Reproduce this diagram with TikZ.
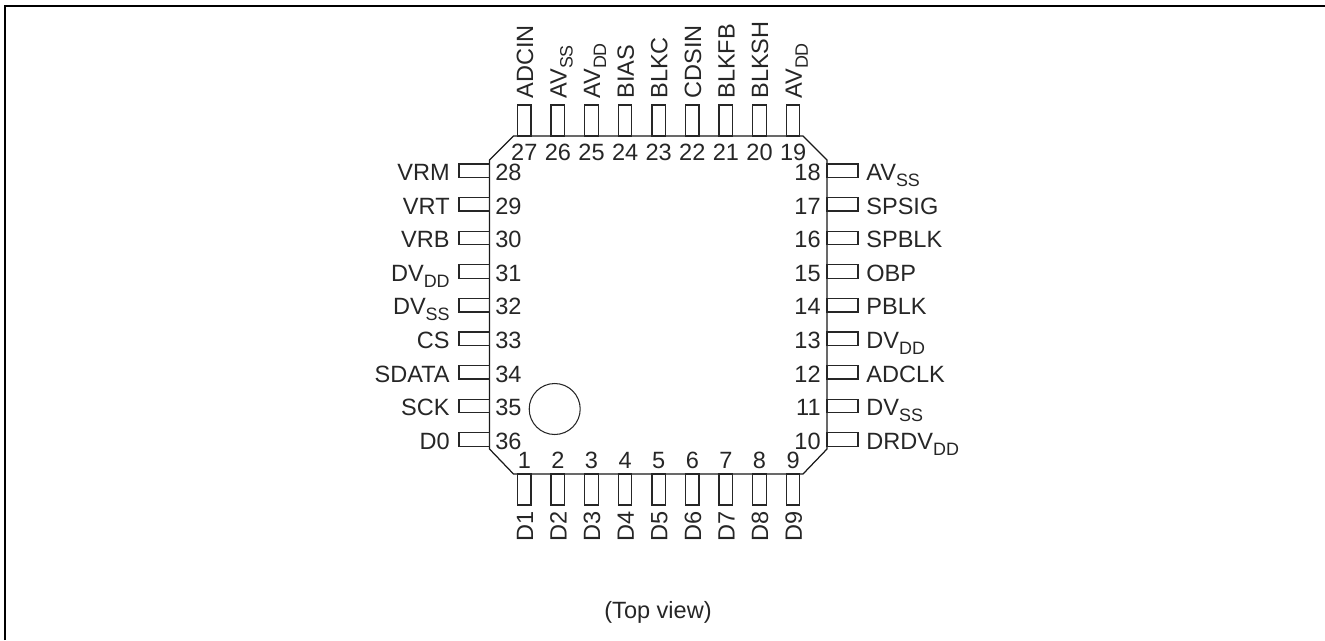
\documentclass[tikz,border=0pt]{standalone}
\usepackage{fontspec}
\setmainfont{Liberation Sans}
\usepackage{tikz}
\newcommand{\lowtxt}[1]{\raisebox{-3.4pt}{\fontsize{10.2}{12}\selectfont #1}}
\tikzset{
  pinbox/.style={draw=black!85, line width=0.7pt},
  bodyline/.style={draw=black!90, line width=0.7pt},
  txt/.style={inner sep=0pt, text=black!85, font=\fontsize{13.4}{16}\selectfont},
  uplabel/.style={txt, rotate=90, anchor=base west}
}

\begin{document}
\begin{tikzpicture}[x=0.02cm, y=-0.02cm]
    \useasboundingbox (0,0) rectangle (1325,640);
    \draw[line width=1.15pt] (5,640) -- (5,6) -- (1325,6);
    % package outline
    \draw[bodyline] (513.5,136) -- (803,136) -- (827,160) -- (827,449) -- (803,474) -- (513.5,474) -- (489.5,449) -- (489.5,160) -- cycle;
    \node[draw=black!85, line width=0.6pt, circle, minimum size=51*0.02cm, inner sep=0pt] (dot) at (554.7,409) {};
    % top pins
    \draw[pinbox] (517.5,136) rectangle (531,105);
    \draw[pinbox] (551.1,136) rectangle (564.6,105);
    \draw[pinbox] (584.7,136) rectangle (598.2,105);
    \draw[pinbox] (618.3,136) rectangle (631.8,105);
    \draw[pinbox] (651.9,136) rectangle (665.4,105);
    \draw[pinbox] (685.5,136) rectangle (699,105);
    \draw[pinbox] (719.1,136) rectangle (732.6,105);
    \draw[pinbox] (752.7,136) rectangle (766.2,105);
    \draw[pinbox] (786.3,136) rectangle (799.8,105);
    % bottom pins
    \draw[pinbox] (517.5,474) rectangle (531,505);
    \draw[pinbox] (551.1,474) rectangle (564.6,505);
    \draw[pinbox] (584.7,474) rectangle (598.2,505);
    \draw[pinbox] (618.3,474) rectangle (631.8,505);
    \draw[pinbox] (651.9,474) rectangle (665.4,505);
    \draw[pinbox] (685.5,474) rectangle (699,505);
    \draw[pinbox] (719.1,474) rectangle (732.6,505);
    \draw[pinbox] (752.7,474) rectangle (766.2,505);
    \draw[pinbox] (786.3,474) rectangle (799.8,505);
    % left pins
    \draw[pinbox] (489.5,164) rectangle (459,177.5);
    \draw[pinbox] (489.5,197.6) rectangle (459,211.1);
    \draw[pinbox] (489.5,231.2) rectangle (459,244.7);
    \draw[pinbox] (489.5,264.8) rectangle (459,278.3);
    \draw[pinbox] (489.5,298.4) rectangle (459,311.9);
    \draw[pinbox] (489.5,332) rectangle (459,345.5);
    \draw[pinbox] (489.5,365.6) rectangle (459,379.1);
    \draw[pinbox] (489.5,399.2) rectangle (459,412.7);
    \draw[pinbox] (489.5,432.8) rectangle (459,446.3);
    % right pins
    \draw[pinbox] (827,164) rectangle (858,177.5);
    \draw[pinbox] (827,197.6) rectangle (858,211.1);
    \draw[pinbox] (827,231.2) rectangle (858,244.7);
    \draw[pinbox] (827,264.8) rectangle (858,278.3);
    \draw[pinbox] (827,298.4) rectangle (858,311.9);
    \draw[pinbox] (827,332) rectangle (858,345.5);
    \draw[pinbox] (827,365.6) rectangle (858,379.1);
    \draw[pinbox] (827,399.2) rectangle (858,412.7);
    \draw[pinbox] (827,432.8) rectangle (858,446.3);
    % numbers
    \node[txt, anchor=base] (n27) at (524.3,160) {27};
    \node[txt, anchor=base] (n26) at (557.9,160) {26};
    \node[txt, anchor=base] (n25) at (591.5,160) {25};
    \node[txt, anchor=base] (n24) at (625.1,160) {24};
    \node[txt, anchor=base] (n23) at (658.7,160) {23};
    \node[txt, anchor=base] (n22) at (692.3,160) {22};
    \node[txt, anchor=base] (n21) at (725.9,160) {21};
    \node[txt, anchor=base] (n20) at (759.5,160) {20};
    \node[txt, anchor=base] (n19) at (793.1,160) {19};
    \node[txt, anchor=base] (n1) at (524.3,468.3) {1};
    \node[txt, anchor=base] (n2) at (557.9,468.3) {2};
    \node[txt, anchor=base] (n3) at (591.5,468.3) {3};
    \node[txt, anchor=base] (n4) at (625.1,468.3) {4};
    \node[txt, anchor=base] (n5) at (658.7,468.3) {5};
    \node[txt, anchor=base] (n6) at (692.3,468.3) {6};
    \node[txt, anchor=base] (n7) at (725.9,468.3) {7};
    \node[txt, anchor=base] (n8) at (759.5,468.3) {8};
    \node[txt, anchor=base] (n9) at (793.1,468.3) {9};
    \node[txt, anchor=base west] (n28) at (495,180.5) {28};
    \node[txt, anchor=base west] (n29) at (495,214.1) {29};
    \node[txt, anchor=base west] (n30) at (495,247.7) {30};
    \node[txt, anchor=base west] (n31) at (495,281.3) {31};
    \node[txt, anchor=base west] (n32) at (495,314.9) {32};
    \node[txt, anchor=base west] (n33) at (495,348.5) {33};
    \node[txt, anchor=base west] (n34) at (495,382.1) {34};
    \node[txt, anchor=base west] (n35) at (495,415.7) {35};
    \node[txt, anchor=base west] (n36) at (495,449.3) {36};
    \node[txt, anchor=base east] (n18) at (821,180.5) {18};
    \node[txt, anchor=base east] (n17) at (821,214.1) {17};
    \node[txt, anchor=base east] (n16) at (821,247.7) {16};
    \node[txt, anchor=base east] (n15) at (821,281.3) {15};
    \node[txt, anchor=base east] (n14) at (821,314.9) {14};
    \node[txt, anchor=base east] (n13) at (821,348.5) {13};
    \node[txt, anchor=base east] (n12) at (821,382.1) {12};
    \node[txt, anchor=base east] (n11) at (821,415.7) {11};
    \node[txt, anchor=base east] (n10) at (821,449.3) {10};
    % pin names
    \node[uplabel] (adcin) at (533,99) {ADCIN};
    \node[uplabel] (avssa) at (566.6,99) {AV\lowtxt{SS}};
    \node[uplabel] (avdda) at (600.2,99) {AV\lowtxt{DD}};
    \node[uplabel] (bias) at (633.8,99) {BIAS};
    \node[uplabel] (blkc) at (667.4,99) {BLKC};
    \node[uplabel] (cdsin) at (701,99) {CDSIN};
    \node[uplabel] (blkfb) at (734.6,99) {BLKFB};
    \node[uplabel] (blksh) at (768.2,99) {BLKSH};
    \node[uplabel] (avddb) at (801.8,99) {AV\lowtxt{DD}};
    \node[uplabel] (d1) at (533,541.7) {D1};
    \node[uplabel] (d2) at (566.6,541.7) {D2};
    \node[uplabel] (d3) at (600.2,541.7) {D3};
    \node[uplabel] (d4) at (633.8,541.7) {D4};
    \node[uplabel] (d5) at (667.4,541.7) {D5};
    \node[uplabel] (d6) at (701,541.7) {D6};
    \node[uplabel] (d7) at (734.6,541.7) {D7};
    \node[uplabel] (d8) at (768.2,541.7) {D8};
    \node[uplabel] (d9) at (801.8,541.7) {D9};
    \node[txt, anchor=base east] (vrm) at (450,180.5) {VRM};
    \node[txt, anchor=base east] (vrt) at (450,214.1) {VRT};
    \node[txt, anchor=base east] (vrb) at (450,247.7) {VRB};
    \node[txt, anchor=base east] (dvdda) at (450,281.3) {DV\lowtxt{DD}};
    \node[txt, anchor=base east] (dvssa) at (450,314.9) {DV\lowtxt{SS}};
    \node[txt, anchor=base east] (cs) at (450,348.5) {CS};
    \node[txt, anchor=base east] (sdata) at (450,382.1) {SDATA};
    \node[txt, anchor=base east] (sck) at (450,415.7) {SCK};
    \node[txt, anchor=base east] (d0) at (450,449.3) {D0};
    \node[txt, anchor=base west] (avssb) at (866,180.5) {AV\lowtxt{SS}};
    \node[txt, anchor=base west] (spsig) at (866,214.1) {SPSIG};
    \node[txt, anchor=base west] (spblk) at (866,247.7) {SPBLK};
    \node[txt, anchor=base west] (obp) at (866,281.3) {OBP};
    \node[txt, anchor=base west] (pblk) at (866,314.9) {PBLK};
    \node[txt, anchor=base west] (dvddb) at (866,348.5) {DV\lowtxt{DD}};
    \node[txt, anchor=base west] (adclk) at (866,382.1) {ADCLK};
    \node[txt, anchor=base west] (dvssb) at (866,415.7) {DV\lowtxt{SS}};
    \node[txt, anchor=base west] (drdvdd) at (866,449.3) {DRDV\lowtxt{DD}};
    \node[txt, anchor=base] (topview) at (658,618) {(Top view)};
\end{tikzpicture}
\end{document}
